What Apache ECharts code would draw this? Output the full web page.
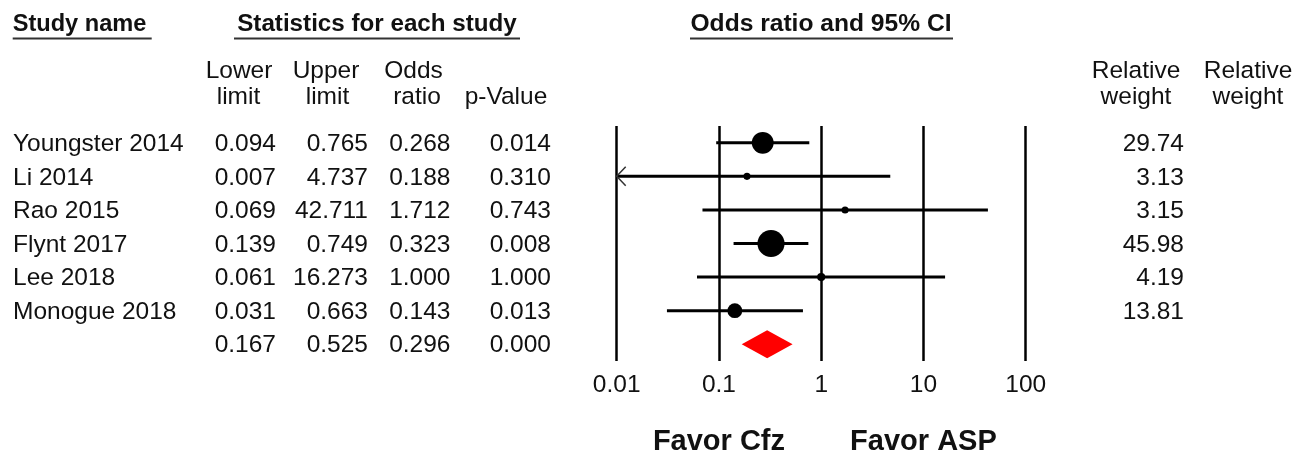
<!DOCTYPE html>
<html>
<head>
<meta charset="utf-8">
<script src="https://cdn.jsdelivr.net/npm/echarts@6/dist/echarts.min.js"></script>
<style>
  html, body { margin: 0; padding: 0; background: #fff; }
  #chart { width: 1293px; height: 455px; }
</style>
</head>
<body>
<div id="chart"></div>
<script>
// Study-level results (odds ratio with 95% CI)
const studies    = ['Youngster 2014', 'Li 2014', 'Rao 2015', 'Flynt 2017', 'Lee 2018', 'Monogue 2018'];
const lowerLimit = [0.094, 0.007, 0.069, 0.139, 0.061, 0.031];
const upperLimit = [0.765, 4.737, 42.711, 0.749, 16.273, 0.663];
const oddsRatio  = [0.268, 0.188, 1.712, 0.323, 1.000, 0.143];
const pValue     = [0.014, 0.310, 0.743, 0.008, 1.000, 0.013];
const relWeight  = [29.74, 3.13, 3.15, 45.98, 4.19, 13.81];

// Pooled estimate
const pooledLower = 0.167;
const pooledUpper = 0.525;
const pooledOR    = 0.296;
const pooledP     = 0.000;

// Axis ticks
const axisTicks  = [0.01, 0.1, 1, 10, 100];
const tickLabels = ['0.01', '0.1', '1', '10', '100'];

const FONT = '"Liberation Sans", Arial, Helvetica, sans-serif';
const INK = '#111';
const AX_MIN = axisTicks[0];
const AX_MAX = axisTicks[axisTicks.length - 1];
const POOLED_ROW = studies.length;

const chart = echarts.init(document.getElementById('chart'), null, { renderer: 'canvas' });

// table rows: one per study plus the pooled row
const tableRows = studies.map((name, i) => ({
  name: name,
  cells: [lowerLimit[i], upperLimit[i], oddsRatio[i], pValue[i]].map(v => v.toFixed(3)),
  weight: relWeight[i].toFixed(2)
}));
tableRows.push({
  name: '',
  cells: [pooledLower, pooledUpper, pooledOR, pooledP].map(v => v.toFixed(3)),
  weight: ''
});

const colRight = [276, 368, 450.5, 551];
const weightRight = 1184;

function txt(text, x, y, opts) {
  opts = opts || {};
  const align = opts.align || 'left';
  return {
    type: 'text',
    silent: true,
    style: {
      text: text, x: x, y: y,
      fill: INK,
      fontSize: opts.size || 24.5,
      fontWeight: opts.bold ? 'bold' : 'normal',
      fontFamily: FONT,
      align: align, textAlign: align,
      verticalAlign: 'middle', textVerticalAlign: 'middle'
    }
  };
}

chart.setOption({
  animation: false,
  backgroundColor: '#fff',
  grid: { left: 616.7, right: 267.3, top: 126, bottom: 94, containLabel: false },
  xAxis: {
    type: 'log',
    logBase: 10,
    min: AX_MIN,
    max: AX_MAX,
    axisLine: { show: false },
    axisTick: { show: false },
    splitLine: {
      show: true,
      showMinLine: true,
      showMaxLine: true,
      lineStyle: { color: '#000', width: 2.5 }
    },
    axisLabel: {
      color: INK,
      fontSize: 24.5,
      fontFamily: FONT,
      margin: 12,
      formatter: function (v) {
        const k = axisTicks.findIndex(t => Math.abs(Math.log10(t) - Math.log10(v)) < 1e-6);
        return k >= 0 ? tickLabels[k] : '';
      }
    }
  },
  yAxis: {
    type: 'value',
    inverse: true,
    min: -0.5,
    max: POOLED_ROW + 0.5,
    show: false
  },
  series: [
    {
      // confidence interval whiskers
      name: 'ci',
      type: 'custom',
      clip: false,
      encode: { x: [1, 2], y: 0 },
      data: studies.map((s, i) => [i, lowerLimit[i], upperLimit[i]]),
      renderItem: function (params, api) {
        const row = api.value(0);
        const lo = api.value(1);
        const hi = api.value(2);
        const a = api.coord([Math.max(lo, AX_MIN), row]);
        const b = api.coord([Math.min(hi, AX_MAX), row]);
        const children = [{
          type: 'line',
          shape: { x1: a[0], y1: a[1], x2: b[0], y2: b[1] },
          style: { stroke: '#000', lineWidth: 3 }
        }];
        if (lo < AX_MIN) {
          children.push({
            type: 'polyline',
            shape: { points: [[a[0] + 9, a[1] - 9.5], [a[0], a[1]], [a[0] + 9, a[1] + 9.5]] },
            style: { stroke: '#333', lineWidth: 1.5, fill: null }
          });
        }
        return { type: 'group', children: children };
      }
    },
    {
      // point estimates, marker area proportional to weight
      name: 'or',
      type: 'scatter',
      symbol: 'circle',
      itemStyle: { color: '#000', opacity: 1 },
      emphasis: { disabled: true },
      z: 5,
      data: studies.map((s, i) => ({
        value: [oddsRatio[i], i],
        symbolSize: 4 * Math.sqrt(relWeight[i])
      }))
    },
    {
      // pooled estimate diamond
      name: 'pooled',
      type: 'custom',
      clip: false,
      encode: { x: [0, 1, 2], y: 3 },
      data: [[pooledLower, pooledOR, pooledUpper, POOLED_ROW]],
      renderItem: function (params, api) {
        const row = api.value(3);
        const l = api.coord([api.value(0), row]);
        const c = api.coord([api.value(1), row]);
        const r = api.coord([api.value(2), row]);
        const h = 14;
        return {
          type: 'polygon',
          shape: { points: [[l[0], l[1]], [c[0], c[1] - h], [r[0], r[1]], [c[0], c[1] + h]] },
          style: { fill: '#ff0000', stroke: null }
        };
      }
    },
    {
      // statistics table, one line per row of the plot
      name: 'table',
      type: 'custom',
      clip: false,
      silent: true,
      encode: { x: 0, y: 1 },
      data: tableRows.map((r, i) => [1, i]),
      renderItem: function (params, api) {
        const row = tableRows[params.dataIndex];
        const y = api.coord([1, api.value(1)])[1] + 1.5;
        const children = [txt(row.name, 13, y)];
        row.cells.forEach((c, k) => children.push(txt(c, colRight[k], y, { align: 'right' })));
        if (row.weight) children.push(txt(row.weight, weightRight, y, { align: 'right' }));
        return { type: 'group', children: children };
      }
    }
  ]
});

// column headings, section titles and direction labels
const favorCfzX = chart.convertToPixel({ xAxisIndex: 0 }, 0.1);
const favorAspX = chart.convertToPixel({ xAxisIndex: 0 }, 10);

function rule(x1, x2, y) {
  return {
    type: 'line', silent: true,
    shape: { x1: x1, y1: y, x2: x2, y2: y },
    style: { stroke: '#333', lineWidth: 2 }
  };
}

chart.setOption({
  graphic: [
    txt('Study name', 12.7, 24.5, { bold: true, size: 23.6 }),
    rule(12.7, 151.7, 38.5),
    txt('Statistics for each study', 377, 24.5, { bold: true, size: 24.2, align: 'center' }),
    rule(234, 520, 38.5),
    txt('Odds ratio and 95% CI', 821, 24.5, { bold: true, size: 24.6, align: 'center' }),
    rule(690, 953, 38.5),

    txt('Lower', 239, 71.5, { align: 'center' }),
    txt('limit', 238.5, 97.5, { align: 'center' }),
    txt('Upper', 326, 71.5, { align: 'center' }),
    txt('limit', 327.5, 97.5, { align: 'center' }),
    txt('Odds', 413.5, 71.5, { align: 'center' }),
    txt('ratio', 417, 97.5, { align: 'center' }),
    txt('p-Value', 506, 97.5, { align: 'center' }),
    txt('Relative', 1136, 71.5, { align: 'center' }),
    txt('weight', 1136, 97.5, { align: 'center' }),
    txt('Relative', 1248, 71.5, { align: 'center' }),
    txt('weight', 1248, 97.5, { align: 'center' }),

    txt('Favor Cfz', favorCfzX, 442, { bold: true, size: 29, align: 'center' }),
    txt('Favor ASP', favorAspX, 442, { bold: true, size: 29, align: 'center' })
  ]
});
</script>
</body>
</html>
